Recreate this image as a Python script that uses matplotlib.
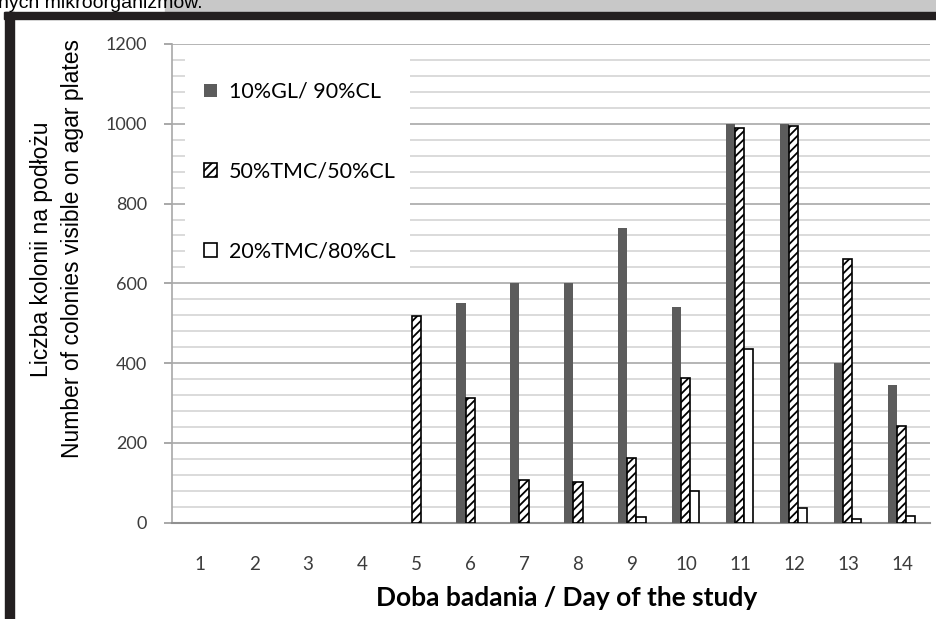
import matplotlib
matplotlib.use('Agg')
import matplotlib.pyplot as plt
import numpy as np
from matplotlib.patches import Rectangle

W, H = 937, 619
plt.rcParams['hatch.linewidth'] = 1.3

days = [1, 2, 3, 4, 5, 6, 7, 8, 9, 10, 11, 12, 13, 14]
series_labels = ['10%GL/ 90%CL', '50%TMC/50%CL', '20%TMC/80%CL']
gl_cl = [0, 0, 0, 0, 0, 550, 600, 600, 740, 541, 1000, 1000, 401, 344]
tmc50 = [0, 0, 0, 0, 518, 312, 107, 102, 163, 363, 990, 994, 661, 242]
tmc20 = [0, 0, 0, 0, 0, 0, 0, 0, 14, 80, 435, 36, 10, 18]
y_ticks = [0, 200, 400, 600, 800, 1000, 1200]

fig = plt.figure(figsize=(W / 100, H / 100), dpi=100)

# Scan artifacts: cut-off caption, grey strip, black frame
fig.patches.append(Rectangle((165 / W, 1 - 12 / H), 1, 12 / H, transform=fig.transFigure,
                             color='#c8c8c8', zorder=0))
fig.patches.append(Rectangle((4 / W, 1 - 19 / H), 1, 7 / H, transform=fig.transFigure,
                             color='#231f20', zorder=0))
fig.patches.append(Rectangle((5 / W, 0), 9 / W, 1 - 12 / H, transform=fig.transFigure,
                             color='#231f20', zorder=0))
fig.text(-2 / W, 1 - 8 / H, 'nych mikroorganizmów.', fontsize=14, family='Liberation Sans',
         va='baseline', ha='left', color='black')

ax = fig.add_axes([172 / W, 1 - 522.7 / H, (930 - 172) / W, (522.7 - 44) / H])


def draw_bars(offset, values, **kw):
    # skip empty days so no stubs are drawn on the baseline
    xs = [d + offset for d, v in zip(days, values) if v > 0]
    vs = [v for v in values if v > 0]
    return ax.bar(xs, vs, w, zorder=3, **kw)


w = 0.167
draw_bars(-w, gl_cl, color='#5c5c5c', linewidth=0, label=series_labels[0])
draw_bars(0, tmc50, color='white', edgecolor='black', hatch='////', linewidth=1.2,
          label=series_labels[1])
draw_bars(w, tmc20, color='white', edgecolor='black', linewidth=1.2, label=series_labels[2])

ax.set_xlim(0.48, 14.52)
ax.set_ylim(0, 1200)
ax.set_xticks(days)
ax.set_yticks(y_ticks)
ax.set_yticks(np.arange(0, 1201, 40), minor=True)
ax.grid(True, axis='y', which='major', color='#a8a8a8', linewidth=1.2, zorder=0)
ax.grid(True, axis='y', which='minor', color='#d4d4d4', linewidth=1.2, zorder=0)
ax.set_axisbelow(True)

ax.tick_params(axis='y', which='major', length=5.8, color='#999999', width=1.2, pad=12,
               labelsize=13, labelcolor='#3c3c3c')
ax.tick_params(axis='y', which='minor', length=0)
ax.tick_params(axis='x', length=0, pad=24, labelsize=13.5, labelcolor='#3c3c3c')
for lbl in ax.get_xticklabels() + ax.get_yticklabels():
    lbl.set_family('Lato')

for side in ['top', 'right']:
    ax.spines[side].set_visible(False)
ax.spines['left'].set_color('#a8a8a8')
ax.spines['left'].set_linewidth(1.2)
ax.spines['bottom'].set_color('#909090')
ax.spines['bottom'].set_linewidth(1.5)

fig.text(567 / W, 1 - 598 / H, 'Doba badania / Day of the study', fontsize=19,
         fontweight='bold', family='Lato', ha='center', va='center')
fig.text(57 / W, 1 - 249 / H, 'Liczba kolonii na podłożu\nNumber of colonies visible on agar plates',
         rotation=90, ha='center', va='center', fontsize=16.5, family='Liberation Sans',
         linespacing=1.45)

# white legend area hides the gridlines behind it
ax.add_patch(Rectangle((185 / W, 1 - 275 / H), 225 / W, 225 / H, transform=fig.transFigure,
                       facecolor='white', edgecolor='none', zorder=1))
leg = ax.legend(loc='upper left', bbox_to_anchor=(204 / W, 1 - 82 / H),
                bbox_transform=fig.transFigure, prop={'family': 'Lato', 'size': 15.5},
                frameon=False, labelspacing=2.77, borderpad=0, borderaxespad=0,
                handlelength=0.6, handleheight=0.6, handletextpad=0.55)

fig.savefig('out.png', dpi=100)
